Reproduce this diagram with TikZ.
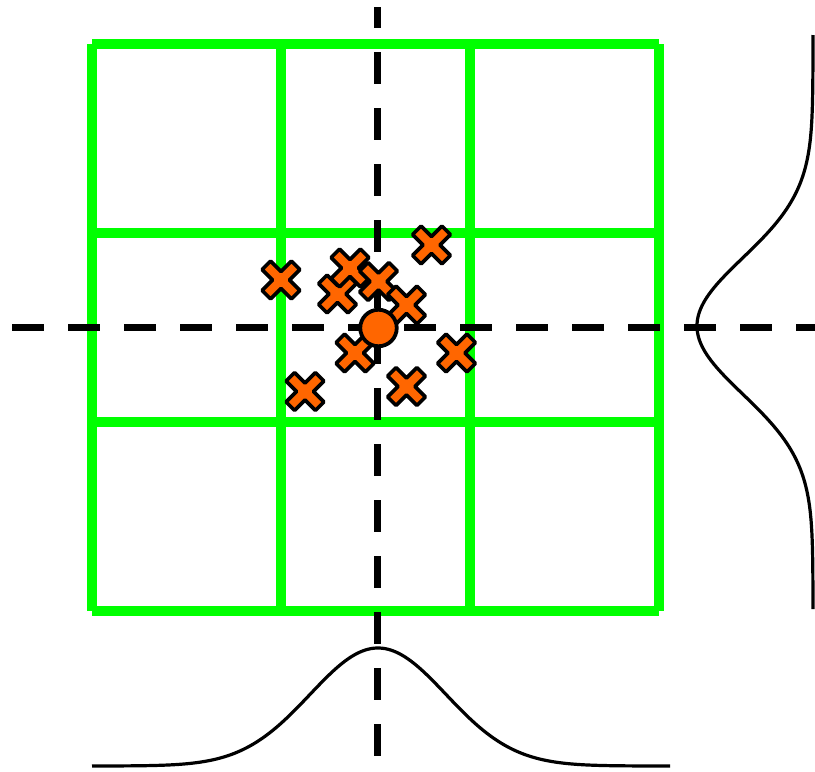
\documentclass[tikz,border=0pt]{standalone}
\definecolor{gridgreen}{RGB}{0,255,0}
\definecolor{markorange}{RGB}{255,102,0}
\tikzset{
  gridline/.style={draw=gridgreen, line width=9.5pt, line cap=butt},
  axisdash/.style={draw=black, line width=7pt, dash pattern=on 32pt off 24pt},
  gausscurve/.style={draw=black, line width=3.2pt},
  xmarkstyle/.style={fill=markorange, draw=black, line width=3.6pt, line join=round},
  xmark/.pic={
    \path[xmarkstyle, rotate=45]
      (6,20.8)--(6,6)--(20.8,6)--(20.8,-6)--(6,-6)--(6,-20.8)--(-6,-20.8)--(-6,-6)
      --(-20.8,-6)--(-20.8,6)--(-6,6)--(-6,20.8)--cycle;
  },
  meanstyle/.style={circle, fill=markorange, draw=black, line width=3.8pt,
    minimum size=36.5pt, inner sep=0pt}
}
\begin{document}
\begin{tikzpicture}[x=1pt,y=-1pt]
\useasboundingbox (0,0) rectangle (815,772);
% grid
\foreach \gx in {92,281,470,659} {
  \path[gridline] (\gx,44) -- (\gx,611);
}
\foreach \gy in {44,233,422,611} {
  \path[gridline] (92,\gy) -- (659,\gy);
}
% dashed axes
\coordinate (vtop) at (377.5,7);
\coordinate (vbot) at (377.5,772);
\coordinate (hleft) at (12,327);
\coordinate (hright) at (815,327);
\path[axisdash, dash phase=11pt, line width=7.5pt] (vtop) -- (vbot);
\path[axisdash] (hleft) -- (hright);
% gaussians
\path[gausscurve] plot[domain=92:670, samples=200, smooth]
  (\x, {766 - 118*exp(-0.5*((\x-378)/68)^2)});
\path[gausscurve] plot[domain=35:609, samples=200, smooth]
  ({813 - 116*exp(-0.5*((\x-326)/68)^2)}, \x);
% samples
\pic (s1) at (281,280) {xmark};
\pic (s2) at (431.5,245) {xmark};
\pic (s4) at (337.5,294) {xmark};
\pic (s3) at (350,268) {xmark};
\pic (s5) at (378.5,281.5) {xmark};
\pic (s6) at (406.5,305) {xmark};
\pic (s7) at (355,353) {xmark};
\pic (s8) at (456.5,353) {xmark};
\pic (s9) at (305,391.5) {xmark};
\pic (s10) at (406.5,386.5) {xmark};
% mean
\node[meanstyle] (mean) at (378.5,328) {};
\end{tikzpicture}
\end{document}
